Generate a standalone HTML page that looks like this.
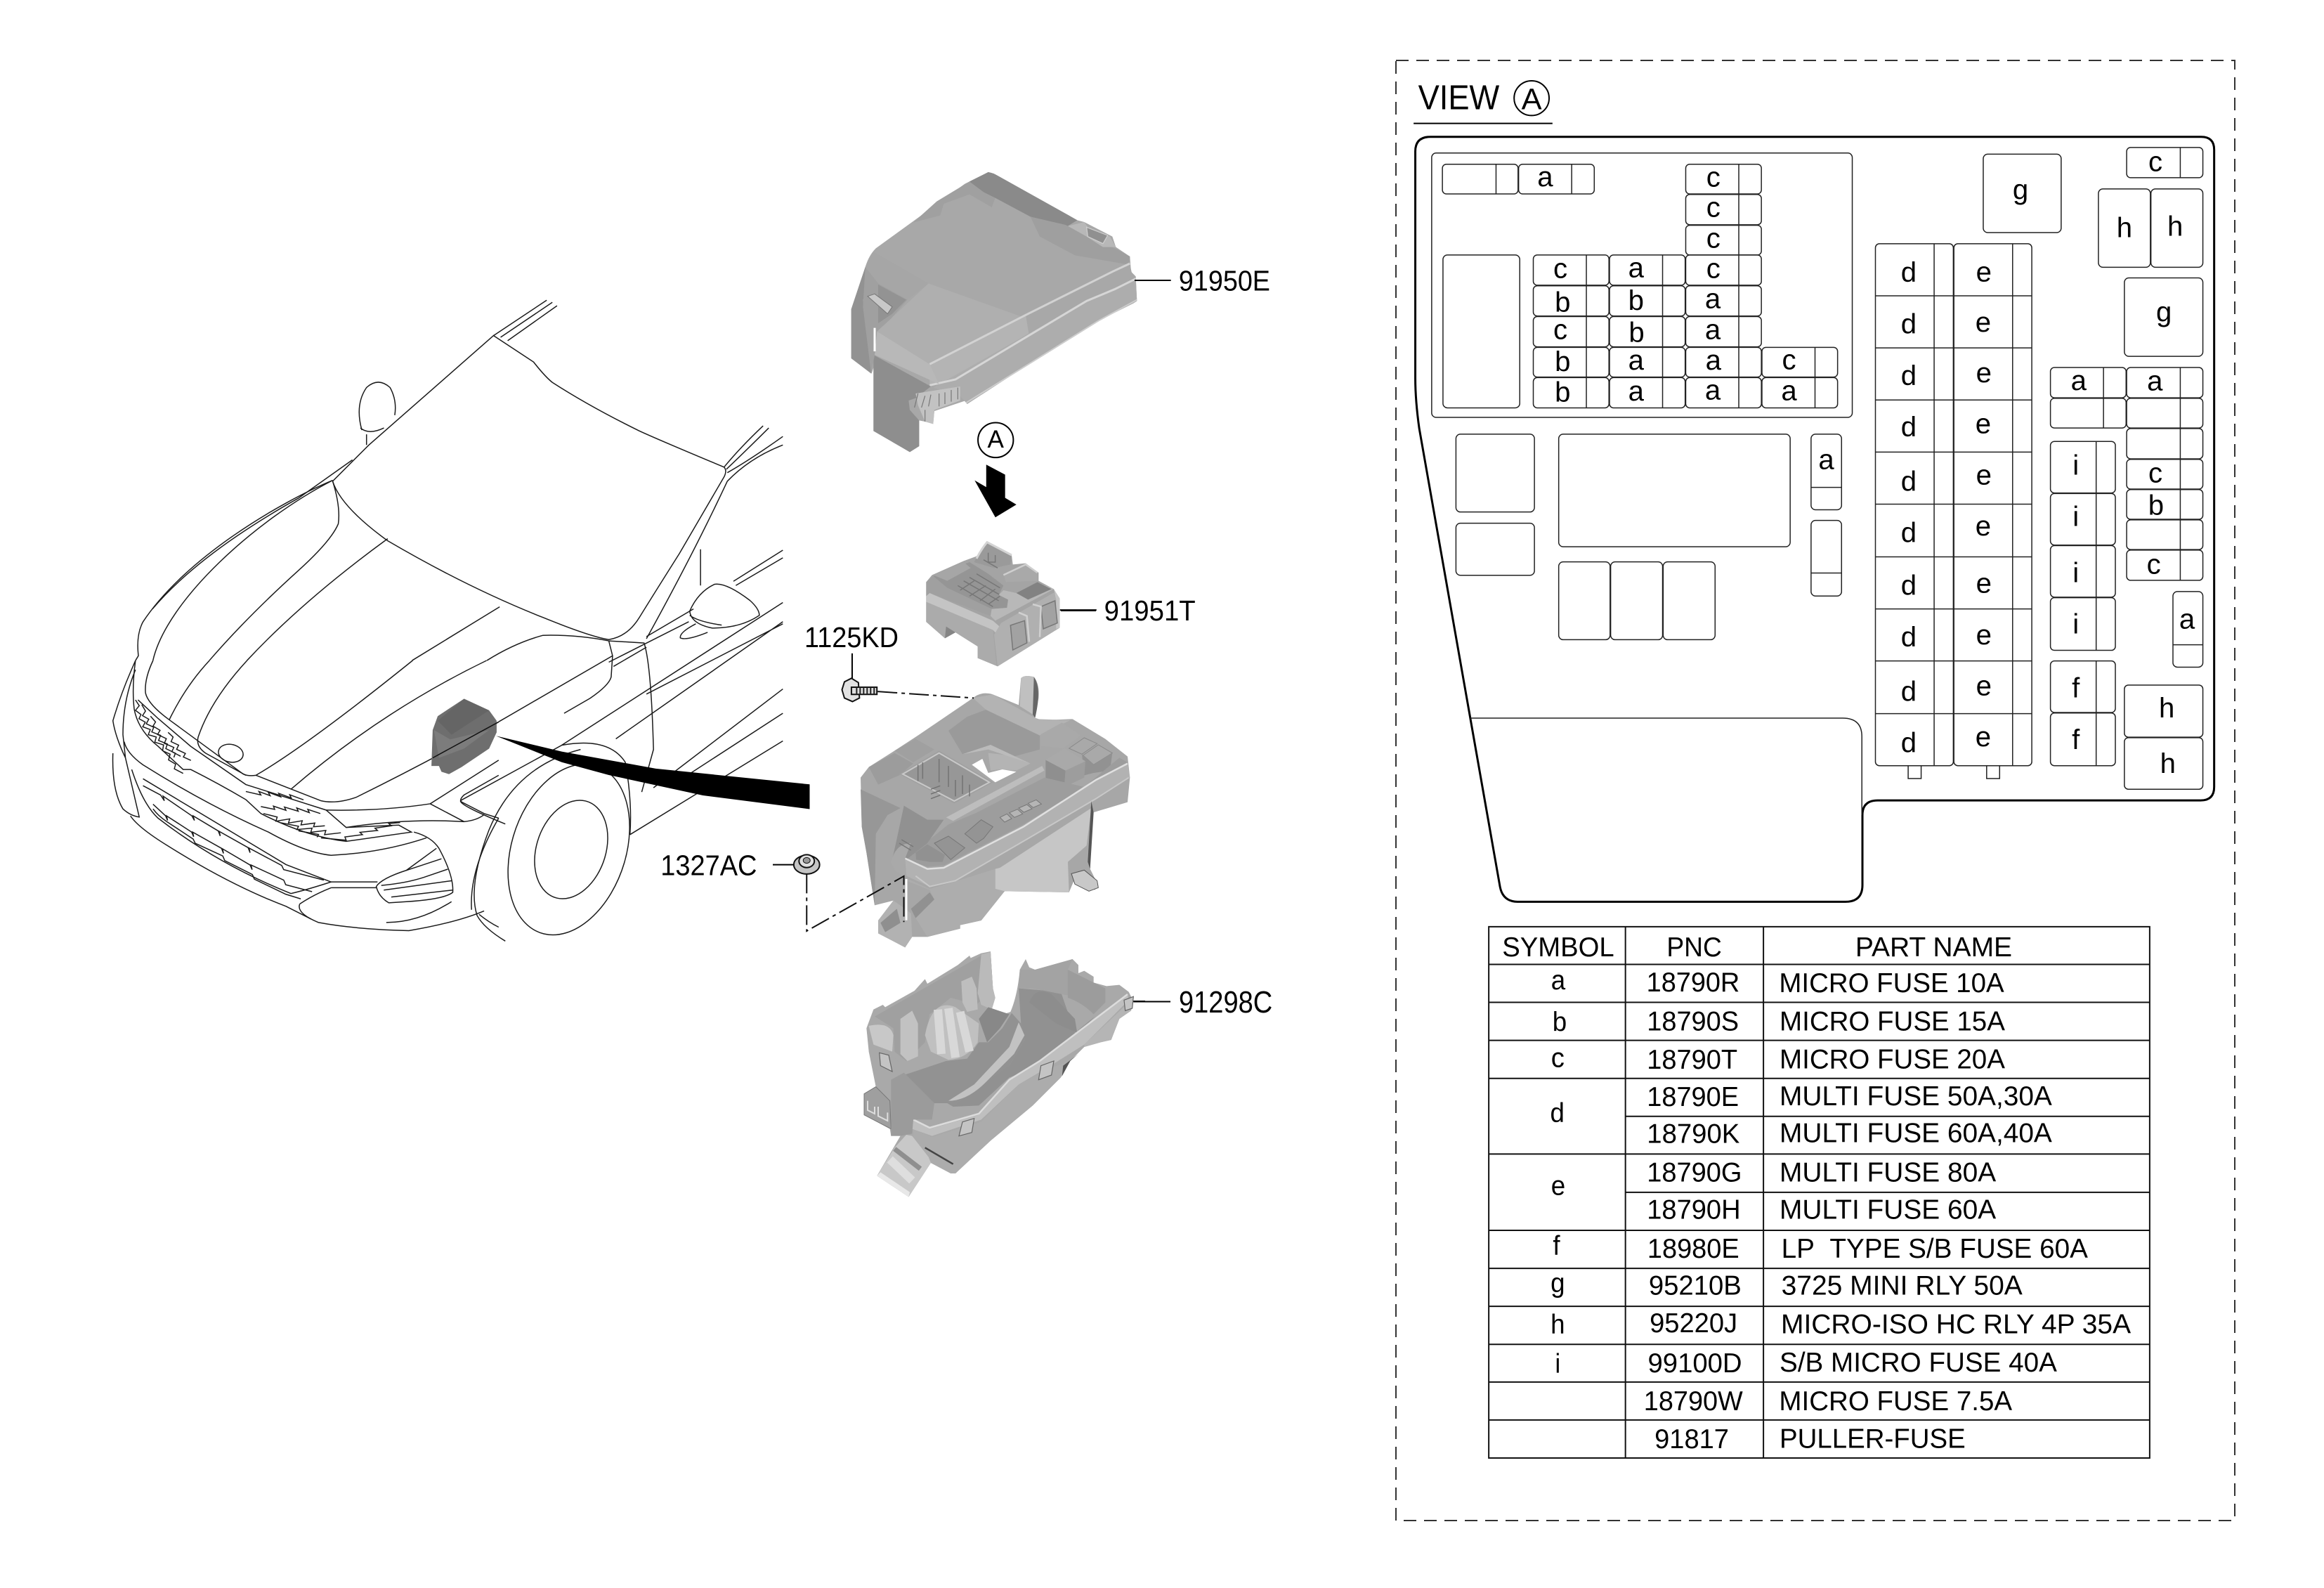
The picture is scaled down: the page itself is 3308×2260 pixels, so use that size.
<!DOCTYPE html>
<html><head><meta charset="utf-8"><style>
html,body{margin:0;padding:0;background:#fff}
svg{display:block}
svg *{vector-effect:non-scaling-stroke}
text{font-family:"Liberation Sans",sans-serif;fill:#000;stroke:none}
.car path,.car ellipse{fill:none;stroke:#1a1a1a;stroke-width:1.5}
.fz rect,.fz path{fill:none;stroke:#222;stroke-width:1.5}
.fz text{font-size:50px;text-anchor:middle}
.tb text{font-size:76px}
.tb .m{text-anchor:middle}
.ln{stroke:#000;stroke-width:2;fill:none}
.lb{font-size:86px}
</style></head><body>
<svg xmlns="http://www.w3.org/2000/svg" width="3308" height="2260" viewBox="0 0 3308 2260">
<rect width="3308" height="2260" fill="#fff"/>

<!-- CAR upper -->
<g class="car" transform="translate(130,400) scale(.6696,.606)">
<path d="M855,128 L940,190 Q965,225 980,238 Q1060,295 1165,352 Q1200,370 1345,437 Q1352,445 1345,460 L1250,640 Q1190,745 1165,790 Q1140,835 1100,842 Q1060,835 960,790 Q800,720 630,610 Q530,530 513,470 L590,385 Z"/>
<path d="M855,128 L968,45M870,132 L980,50M885,140 L990,58"/>
<path d="M575,350 Q560,290 585,250 Q610,225 635,250 Q650,280 645,315M572,345 Q590,362 622,345M585,360 L585,385"/>
<path d="M513,468 C400,520 200,650 110,800 Q95,830 100,880 L94,891"/>
<path d="M555,420 L440,510 Q230,640 130,770"/>
<path d="M513,470 Q530,530 525,570 Q510,610 440,680 Q330,790 251,891"/>
<path d="M513,468 C350,560 160,750 131,891"/>
<path d="M630,605 Q450,750 331,891"/>
<path d="M868,765 L682,891"/>
<path d="M1100,845 Q1030,830 960,832 Q900,850 841,891"/>
<path d="M866,1035 L1108,880 L1100,845M1108,880 L1105,930 Q1100,950 1060,980 L1005,1015"/>
<path d="M1345,437 Q1380,390 1428,340M1350,442 Q1390,400 1440,345M1352,450 Q1400,420 1470,365M1180,840 Q1280,640 1352,470 Q1400,415 1470,385"/>
<path d="M1100,845 L1175,850 Q1190,900 1195,1100 L1170,1200M1295,630 V715"/>
<path d="M1272,775 Q1290,730 1325,712 Q1350,708 1400,750 Q1420,770 1420,785 Q1380,815 1320,815 Q1275,805 1272,775M1272,785 Q1290,800 1340,808M1285,805 Q1250,825 1252,838 Q1265,845 1310,825"/>
<path d="M1180,835 L1280,770M1370,715 L1470,650M1365,705 L1470,632M1100,895 L1270,800M1110,905 L1180,860"/>
<path d="M1000,1090 L1470,755M1180,970 L1470,805M1115,1075 L1470,800M1195,1190 L1470,958M1240,1180 L1470,1015M1145,1300 L1470,1080"/>
<path d="M785,1220 Q780,1230 880,1275M785,1220 L1000,1090 Q1100,1070 1135,1130 Q1150,1220 1145,1300"/>
<path d="M1040,1100 Q900,1140 845,1290 Q800,1420 820,1490 Q835,1520 880,1550"/>
<ellipse cx="1015" cy="1335" rx="122" ry="205" transform="rotate(15 1015 1335)"/>
<ellipse cx="1020" cy="1335" rx="74" ry="118" transform="rotate(15 1020 1335)"/>
</g>

<!-- CAR front -->
<g class="car" transform="translate(150,940) scale(.357,.33)">
<path d="M190,0 Q155,80 160,140 Q170,190 260,260 L550,490 Q570,500 600,495 Q800,370 1225,0"/>
<path d="M415,0 Q320,110 255,255"/>
<path d="M565,0 Q420,170 370,330 Q360,370 400,400 L560,495"/>
<path d="M600,495 L860,605 Q920,620 1000,590 Q1300,430 1568,265"/>
<path d="M740,555 Q1100,220 1520,0"/>
<ellipse cx="500" cy="400" rx="50" ry="38" transform="rotate(15 500 400)"/>
<path d="M120,0 L100,50 Q60,150 30,260 Q40,330 80,420M120,40 Q70,170 70,320 L80,420"/>
<path d="M120,0 Q105,120 115,210 Q130,300 210,370 L310,470 L340,470 Q450,530 560,600 L620,660 Q800,760 960,780 L1220,740 L1170,710 L960,720 L880,645 L560,535 L340,370 L210,250 L130,170"/>
<path d="M120,170 l15,25 -15,20 22,18 -8,18 25,15 -10,20 30,12 -8,22 32,10 -6,22 35,12 -4,25 30,15 -6,25 28,18 -5,20 35,20 M145,190 l15,28 -12,20 25,15 -10,20 30,15 -8,20 35,15 -8,22 35,15 -6,20 38,20 -6,18 M180,240 l20,25 -10,18 28,18 -10,18 35,18 -8,20 38,18 -8,18 35,20 M250,310 l20,20 -8,20 30,15 -8,18 35,18 -8,15 30,15"/>
<path d="M560,565 l60,15 -8,-15 45,18 -8,-15 50,20 -8,-15 50,20 -6,-14 55,22 M620,630 l55,12 -5,-14 50,18 -6,-14 55,18 -6,-14 50,20 -6,-14 50,18 M630,660 l55,15 -5,18 55,-10 -5,18 55,-10 -5,18 55,-8 -5,16 45,-4 M700,700 l70,15 -6,14 60,-6 -5,18 60,-8 -5,18 65,-8 M770,735 l80,15 -6,12 M860,765 l100,10 -5,-14 70,-10 -10,-10 70,-8 -10,-10 65,-10 -10,-10 45,-4"/>
<path d="M75,350 Q85,400 150,450 Q400,620 650,740 Q800,830 900,840 Q1100,830 1280,765"/>
<path d="M880,645 Q1100,650 1295,618 L1568,430M1295,618 L1430,695 Q1480,690 1510,665M960,720 Q1200,680 1430,695"/>
<path d="M1420,610 Q1410,600 1430,580 L1568,495M1420,610 L1510,660 L1568,680"/>
<path d="M1230,740 Q1300,760 1330,810 Q1390,930 1385,1000 Q1350,1030 1200,1040 L1130,1045 Q1090,1020 1080,975 Q1100,940 1200,905 L1320,810"/>
<path d="M1100,970 Q1200,960 1270,935M1110,990 L1380,950M1140,1020 L1385,990M1200,905 L1340,855M1270,935 L1365,900"/>
<path d="M900,955 H1085M900,980 H1080M775,1050 Q830,1010 900,980M775,1050 Q760,1090 850,1130 Q1000,1160 1210,1165 Q1400,1130 1510,1080M1120,1130 Q1250,1130 1380,1040"/>
<path d="M30,400 Q25,560 70,640 Q100,670 135,675 L80,420M100,670 Q130,720 250,800 Q500,970 720,1060 L820,1115"/>
<path d="M105,470 Q150,620 210,680 Q450,880 740,1005 Q800,990 900,955 L720,880 L150,510"/>
<path d="M150,540 L220,580 l15,25 -5,-20 115,85 10,20 -5,-20 100,65 8,22 -4,-20 115,70 8,22 -4,-20 130,75 8,18 160,45"/>
<path d="M190,620 L240,670 l8,20 -4,-20 100,70 8,20 -4,-20 115,70 8,22 -4,-20 110,70 8,20 -4,-20 130,65 8,20 105,30"/>
<path d="M190,640 Q210,670 245,695 L350,770 l8,18 110,55 8,20 110,60 8,20 125,65 l60,20"/>
<path d="M1460,1075 Q1450,900 1568,680M1490,1095 Q1530,1130 1568,1150"/>
</g>

<!-- wedge + module -->
<g transform="translate(130,400) scale(.6696,.606)">
<path d="M860,1068 L1000,1105 L1200,1145 L1527,1182 V1240 L1300,1208 L1100,1160 L1000,1130 Z" fill="#000"/>
</g>
<g transform="translate(150,940) scale(.357,.33)">
<path d="M1430,165 L1530,215 L1560,260 L1560,310 L1530,380 L1420,460 L1370,490 L1340,480 L1330,455 L1300,455 L1305,300 L1325,240 Z" fill="#6e6e6e"/>
<path d="M1430,165 L1530,215 L1380,320 L1325,260 Z" fill="#656565"/>
<path d="M1310,300 L1375,340 L1530,300 L1430,380 L1330,420 Z" fill="#7c7c7c"/>
<path d="M1305,420 L1568,265" stroke="#111" stroke-width="1.5" fill="none"/>
</g>

<!-- COVER (detail coords) -->
<g transform="translate(1200,230) scale(.33333)">
<path d="M620,45 Q640,48 660,60 L1000,250 L1030,258 L1150,320 L1165,365 L1225,405 L1230,470 L1250,490 L1255,595 L1240,605 L1090,680 L800,860 L530,1035 L525,1020 L390,1065 L385,1120 L350,1110 L325,1105 L325,1215 L285,1240 L130,1150 L130,880 L122,905 L35,840 L35,630 L95,450 Q110,400 140,370 L520,95 Z" fill="#a8a8a8"/>
<path d="M540,85 L620,45 Q640,48 660,60 L1000,250 L960,275 L850,260 L800,235 L650,155 L635,195 L540,140 L430,180 L415,230 L300,260 L400,170 Z" fill="#a0a0a0"/>
<path d="M540,85 L620,45 Q640,48 660,60 L1000,250 L960,275 L900,265 L800,235 L650,155 L600,130 Z" fill="#8a8a8a"/>
<path d="M800,235 L950,270 L1170,375 L1225,405 L1220,440 L990,400 L840,320 Z" fill="#9f9f9f"/>
<path d="M145,725 L205,670 L365,520 L770,665 L370,865 Z" fill="#afafaf"/>
<path d="M130,385 L365,520 L275,590 L150,520 L95,450 Z" fill="#a6a6a6"/>
<path d="M370,865 L780,655 L1150,470 L1225,440 L1240,510 L1030,590 L450,940 L370,950 Z" fill="#b4b4b4"/>
<path d="M780,655 L1150,470 L1225,440 L1240,505 L1040,590 L795,745 Z" fill="#a8a8a8"/>
<path d="M385,965 L1030,600 L1250,500 L1255,595 L1240,605 L1090,680 L800,860 L530,1035 L500,1000 Z" fill="#adadad"/>
<path d="M370,865 L780,655 L1150,470 L1225,435" stroke="#d2d2d2" stroke-width="3" fill="none"/>
<path d="M370,955 L480,930 L1040,595 L1160,545 L1250,500" stroke="#d6d6d6" stroke-width="3" fill="none"/>
<path d="M525,1030 L800,860 L1090,680 L1255,590" stroke="#cdcdcd" stroke-width="2" fill="none"/>
<path d="M145,725 L370,865 L410,950 L135,825 Z" fill="#b8b8b8"/>
<path d="M130,825 L375,960 L310,1010 L280,1020 L285,1060 L325,1105 L325,1215 L285,1240 L130,1150 Z" fill="#8e8e8e"/>
<path d="M35,630 L95,450 L130,520 L85,590 L120,905 L35,840 Z" fill="#929292"/>
<path d="M95,450 L150,520 L275,590 L205,670 L145,725 L135,825 L120,905 L85,620 Z" fill="#a0a0a0"/>
<path d="M150,525 L270,590 L210,650 L150,690 Z" fill="#939393"/>
<path d="M105,575 L135,565 L210,620 L190,650 Z" fill="#c8c8c8" stroke="#777" stroke-width="1"/>
<path d="M135,710 V810" stroke="#fff" stroke-width="3"/>
<path d="M310,990 L500,960 L500,1020 L390,1060 L385,1120 L350,1110 L320,1040 Z" fill="#c2c2c2"/>
<path d="M320,990 l-15,60M350,1000 l-15,50M375,995 l-10,50M410,990 v55M435,985 v50M462,975 v50M490,965 v50M350,1060 v50" stroke="#777" stroke-width="1.2"/>
<path d="M960,275 L1030,258 L1045,280 L1140,320 L1165,365 L1110,365 L1040,320 Z" fill="#b8b8b8"/>
<path d="M1040,280 L1130,315 L1110,350 L1045,320 Z" fill="#909090" stroke="#d0d0d0" stroke-width="1.2"/>
<path d="M1245,507 H1400" class="ln"/>
</g>

<!-- labels / arrow -->
<g transform="translate(1180,220) scale(.4337,.478)">
<text x="1148" y="405" class="lb" textLength="300" lengthAdjust="spacingAndGlyphs">91950E</text>
<ellipse cx="547" cy="850" rx="58" ry="52" fill="none" stroke="#000" stroke-width="2"/>
<text x="520" y="872" font-size="74" textLength="54" lengthAdjust="spacingAndGlyphs">A</text>
<path d="M516,923 L578,953 L578,1022 L615,1042 L546,1080 L478,970 L516,990 Z" fill="#000"/>
<text x="903" y="1387" class="lb" textLength="300" lengthAdjust="spacingAndGlyphs">91951T</text>
<path d="M758,1356 H878" class="ln"/>
<path d="M76,1485 V1560" class="ln"/>
</g>
<text x="1145" y="921" font-size="41" textLength="134" lengthAdjust="spacingAndGlyphs">1125KD</text>

<!-- RELAY block -->
<g transform="translate(1300,720) scale(.33333)">
<path d="M315,152 L420,210 L425,250 L480,245 L535,285 L535,320 L600,355 L625,395 L625,520 L360,685 L275,650 L275,600 L180,540 L135,565 L55,495 L55,325 L80,295 L215,235 L270,215 Z" fill="#a4a4a4"/>
<path d="M85,300 L240,240 L320,290 L385,340 L365,380 L405,400 L400,435 L335,440 L145,350 Z" fill="#959595"/>
<path d="M85,295 L215,240 L245,265 L145,320 Z" fill="#a6a6a6"/>
<path d="M270,220 L315,160 L420,210 L415,250 L345,265 L260,240 Z" fill="#9a9a9a"/>
<path d="M270,225 Q290,185 315,155 L420,210" stroke="#d4d4d4" stroke-width="3" fill="none"/>
<path d="M385,290 L480,250 L530,285 L530,320 L395,325 Z" fill="#a9a9a9"/>
<path d="M385,295 L480,250 L530,285" stroke="#cfcfcf" stroke-width="2.5" fill="none"/>
<path d="M190,340 l150,90M215,320 l150,85M240,305 l130,75M270,290 l100,60M200,360 l60,-40M240,385 l70,-45M285,405 l65,-50M320,420 l50,-35M300,230 l60,35M320,200 v40 h30 v-30" stroke="#777" stroke-width="1.5" fill="none"/>
<path d="M55,325 L85,300 L145,350 L335,440 L330,470 L70,372 L55,385 Z" fill="#a0a0a0"/>
<path d="M330,470 L335,440 L400,435 L405,400 L365,380 L385,360 L440,372 L530,325 L600,355 L350,490 Z" fill="#b8b8b8"/>
<path d="M440,372 L530,325 L590,355 L490,400 Z" fill="#828282"/>
<path d="M55,385 L70,372 L340,490 L385,530 L380,570 L340,530 L55,410 Z" fill="#c4c4c4"/>
<path d="M55,410 L340,530 L355,680 L275,650 L275,600 L180,540 L135,565 L55,495 Z" fill="#ababab"/>
<path d="M140,515 L180,540 L135,565 Z" fill="#858585"/>
<path d="M375,500 L600,370 L625,400 L625,520 L360,685 L345,550 Z" fill="#b0b0b0"/>
<path d="M600,355 L625,395 L625,520 L610,525 L610,400 Z" fill="#c6c6c6"/>
<path d="M415,510 L475,490 L485,585 L425,615 Z M545,430 L605,405 L615,500 L555,525 Z" fill="#a2a2a2" stroke="#777" stroke-width="1.5"/>
<path d="M450,455 L485,470 L495,580 M510,420 L545,430 L540,560" stroke="#d0d0d0" stroke-width="2.5" fill="none"/>
<path d="M630,447 H780" class="ln"/>
</g>

<!-- FUSE BOX -->
<g transform="translate(1210,960) scale(.33333)">
<path d="M525,100 Q560,70 610,85 L720,130 L730,15 Q745,0 785,10 Q810,40 805,100 L790,185 L820,195 L950,190 L1090,275 L1185,350 L1195,440 L1185,545 L1035,590 L1025,830 L1060,900 L1045,920 L960,870 L935,930 L660,925 L560,1050 L470,1070 L470,1085 L330,1120 L265,1120 L235,1165 L120,1105 L120,1050 L185,965 L105,985 L70,760 L50,650 L45,440 L80,395 L190,325 L290,260 Z" fill="#a7a7a7"/>
<path d="M730,15 Q745,0 785,10 Q795,80 780,170 L725,135 Z" fill="#c0c0c0"/>
<path d="M785,10 Q820,60 790,185 L780,170 Z" fill="#666"/>
<path d="M580,150 L810,260 L810,320 L700,350 L600,300 L480,340 L420,240 L500,180 Z" fill="#9a9a9a"/>
<path d="M525,100 L580,150 L810,260 L940,195 L800,190 L610,85 Z" fill="#b3b3b3"/>
<path d="M590,335 L680,345 L770,380 L710,410 L640,405 L600,410 Z" fill="#b4b4b4"/>
<path d="M480,340 L590,320 L770,380 L600,300 Z" fill="#bbb"/>
<path d="M520,385 L565,360 L590,420 L650,405 L710,415 L620,460 Z" fill="#fff"/>
<path d="M815,255 L905,205 L985,260 L910,315 L815,305 Z" fill="#a9a9a9"/>
<path d="M935,315 L1000,270 L1055,295 L990,340 Z M995,345 L1060,300 L1120,335 L1040,385 Z" fill="#a9a9a9" stroke="#8a8a8a" stroke-width="1"/>
<path d="M990,340 L1040,385 L1040,420 L1000,430 Z M1040,385 L1120,335 L1110,410 L1040,420 Z" fill="#929292"/>
<path d="M835,365 L915,315 L1005,370 L920,410 Z" fill="#a9a9a9"/>
<path d="M835,365 L920,410 L915,480 L835,445 Z" fill="#8f8f8f"/>
<path d="M920,410 L1005,370 L1000,440 L915,480 Z" fill="#9d9d9d"/>
<path d="M190,325 L280,275 L360,320 L270,375 Z" fill="#a0a0a0"/>
<path d="M80,395 L190,335 L270,380 L210,430 L120,470 Z" fill="#9c9c9c"/>
<path d="M210,425 L380,325 L610,460 L445,550 Z" fill="#a0a0a0"/>
<path d="M225,425 L380,335 L595,460 L445,540 Z" fill="#979797" stroke="#c8c8c8" stroke-width="2"/>
<path d="M290,385 v70M310,375 v70M380,360 v100M420,390 v90M450,450 v70M480,430 v80M510,470 v50M345,490 l40,-15M345,510 l40,-15M345,530 l40,-15" stroke="#737373" stroke-width="1.5" fill="none"/>
<path d="M410,610 L820,390 L830,410 L440,625 Z" fill="#bdbdbd"/>
<path d="M240,790 L345,700 L420,640 L540,590 L830,440 L1000,480 L1150,355 L1185,375 L1050,450 L740,640 L400,815 L330,820 Z" fill="#9d9d9d"/>
<path d="M230,560 L330,620 L400,620 L330,720 L240,790 L180,790 L200,700 Z" fill="#919191"/>
<path d="M280,760 L330,725 L405,770 L395,800 L340,800 L282,790 Z" fill="#919191"/>
<path d="M360,720 L420,690 L490,740 L430,790 Z M490,680 L560,620 L610,650 L570,700 L540,720 Z" fill="#949494" stroke="#777" stroke-width="1"/>
<path d="M640,610 l30,-15 20,20 -30,15Z M680,590 l35,-15 22,20 -35,15Z M720,570 l35,-15 22,18 -35,15Z M760,550 l35,-15 22,18 -35,15Z" fill="#b5b5b5" stroke="#777" stroke-width="1"/>
<path d="M640,825 L1030,570 L1010,730 L930,800 L935,930 L660,925 L620,915 L620,830 Z" fill="#c6c6c6"/>
<path d="M240,870 L340,915 L460,880 L620,830 L620,915 L660,925 L560,1050 L470,1070 L470,1085 L330,1120 L280,1040 L360,960 L340,920 L240,880 Z" fill="#adadad"/>
<path d="M235,785 L330,830 L400,825 L740,650 L1050,450 L1185,380 L1195,440 L1050,530 L760,700 L450,880 L340,905 L240,860 Z" fill="#b2b2b2"/>
<path d="M235,785 L330,830 L400,825 L740,650 L1050,450 L1185,380" stroke="#e0e0e0" stroke-width="2.5" fill="none"/>
<path d="M280,860 L340,905 L450,880 L760,700 L1050,530 L1190,440" stroke="#c8c8c8" stroke-width="2" fill="none"/>
<path d="M1030,540 L1040,590 L1025,830 L1015,800 Z" fill="#555"/>
<path d="M945,850 L1000,835 L1055,880 L1060,910 L1020,925 L960,895 Z" fill="#c8c8c8" stroke="#555" stroke-width="1"/>
<path d="M45,490 L215,570 L160,600 L110,680 L105,985 L70,760 L50,650 Z" fill="#979797"/>
<path d="M175,800 Q195,720 260,720 L235,785 L235,860 Q190,850 175,800 Z" fill="#a9a9a9"/>
<path d="M210,720 l50,30M220,705 l50,30" stroke="#777" stroke-width="1.5"/>
<path d="M120,1050 L185,965 L235,1000 L260,1020 L265,1120 L235,1165 L120,1105 Z" fill="#b2b2b2"/>
<path d="M130,1060 L200,1000 L215,1060 L150,1100 Z" fill="#8f8f8f"/>
<path d="M260,1000 L340,930 L360,960 L280,1040 Z" fill="#919191"/>
</g>

<!-- TRAY -->
<g transform="translate(1210,1340) scale(.33333)">
<path d="M600,42 L610,200 L620,240 L605,290 Q640,320 685,300 Q715,230 725,120 L750,75 L765,110 L790,120 L950,75 L975,100 L975,135 L1000,125 L1040,150 L1040,175 L1095,190 L1150,185 L1190,215 L1210,255 L1200,295 L1150,330 L1115,420 L1070,430 L1000,450 L940,510 L900,580 L780,700 L600,850 L450,990 L430,990 L345,945 L250,1090 L115,1000 L215,830 L175,830 L170,800 L60,740 L60,650 L110,620 L80,470 L70,370 L100,290 L140,270 L150,280 L275,210 L320,160 L330,180 L460,100 L510,60 L515,70 L560,50 Z" fill="#a9a9a9"/>
<path d="M105,320 L560,60 L600,45 L610,200 L540,270 L430,240 L340,310 L320,430 L240,510 L190,470 L185,370 Z" fill="#a0a0a0"/>
<path d="M560,55 L600,45 L610,200 L620,240 L605,290 L560,270 L545,220 Z" fill="#bababa"/>
<path d="M230,570 L410,510 L500,500 L550,430 L590,430 L650,370 L690,305 L730,350 L745,420 L680,530 L550,660 L440,705 L415,690 L350,690 L240,620 Z" fill="#929292"/>
<path d="M745,420 L730,350 L720,200 L900,215 L960,390 L1045,320 L880,490 L790,540 L680,580 L550,700 L440,705 L680,530 Z" fill="#919191"/>
<path d="M720,200 L725,120 L790,120 L950,75 L930,120 L930,230 L780,200 Z" fill="#a3a3a3"/>
<path d="M765,260 Q790,190 860,225 L960,330 L970,390 L880,350 Z" fill="#8d8d8d"/>
<path d="M930,120 L1090,200 L1090,260 L1040,310 Q990,260 930,240 Z" fill="#9c9c9c"/>
<path d="M320,400 Q350,240 450,280 L550,350 L545,430 Q500,500 420,505 L345,470 Z" fill="#c0c0c0"/>
<path d="M375,290 L390,480M420,285 L450,495M470,300 L510,470" stroke="#d8d8d8" stroke-width="12" fill="none"/>
<path d="M550,330 L590,280 L680,310 L640,370 L585,430 Z" fill="#888"/>
<path d="M215,330 L265,295 L290,350 L290,490 L245,510 L215,480 Z" fill="#c2c2c2"/>
<path d="M475,170 L520,150 L540,200 L545,290 L500,300 L480,260 Z" fill="#bebebe"/>
<path d="M420,680 Q500,680 580,600 L700,480 L745,400 L720,345 L680,450 L530,610 Z" fill="#c2c2c2"/>
<path d="M270,800 L350,835 L560,770 L720,610 L840,545 L940,510 L900,580 L780,700 L600,850 L450,990 L430,990 L345,945 L270,860 Z" fill="#acacac"/>
<path d="M270,760 L340,800 L550,740 L680,590 L810,510 L1185,225 L1190,250 L1000,440 L840,540 L720,610 L560,760 L350,830 L265,800 Z" fill="#bfbfbf"/>
<path d="M270,760 L340,795 L550,735 L680,590 L810,510 L1185,225" stroke="#dcdcdc" stroke-width="2.5" fill="none"/>
<path d="M1000,440 L1190,260 L1200,295 L1150,330 L1115,420 L1070,430 L1000,450 Z" fill="#b5b5b5"/>
<path d="M910,530 L975,480 L940,510 L905,575 Z" fill="#555"/>
<path d="M60,650 L110,620 L170,680 L175,800 L60,740 Z" fill="#9f9f9f" stroke="#777" stroke-width="1"/>
<path d="M75,680 v40 l30,15 v-30 M120,705 v40 l40,20 v-35" stroke="#ddd" stroke-width="2" fill="none"/>
<path d="M175,590 L230,560 L360,690 L350,760 L270,760 L265,820 L215,830 L175,830 Z" fill="#9b9b9b"/>
<path d="M100,460 L130,440 L215,520 L225,560 L175,590 L130,560 L100,540 L80,470 Z" fill="#a9a9a9"/>
<path d="M80,360 Q170,340 185,400 L180,470 L100,440 Z" fill="#c8c8c8"/>
<path d="M125,475 L165,485 L180,555 L130,530 Z M480,770 L530,755 L520,815 L465,830 Z M815,530 L870,510 L860,570 L805,590 Z M1170,250 L1210,235 L1205,285 L1175,295 Z" fill="#c4c4c4" stroke="#666" stroke-width="1.2"/>
<path d="M115,1000 L190,880 L240,825 L265,830 L335,920 L345,945 L250,1090 Z" fill="#c8c8c8"/>
<path d="M190,885 L300,970" stroke="#8f8f8f" stroke-width="7"/>
<path d="M170,930 L265,1020" stroke="#dedede" stroke-width="12"/>
<path d="M115,1000 L250,1090 L255,1070 L130,985 Z" fill="#e8e8e8"/>
<path d="M320,880 L440,950" stroke="#444" stroke-width="2.5"/>
<path d="M1210,255 H1260" class="ln"/>
</g>

<!-- screw, nut, dashed lines, labels -->
<g transform="translate(1100,950) scale(.4974,.5102)">
<path d="M300,67 L575,85M97,575 V735 L375,582 V710" fill="none" stroke="#111" stroke-width="2" stroke-dasharray="28 6 5 6"/>
<path d="M382,590 V705" stroke="#fff" stroke-width="3"/>
<path d="M205,40 L225,30 L245,42 L248,85 L228,95 L205,85 L198,62 Z" fill="#e2e2e2" stroke="#111" stroke-width="2"/>
<path d="M225,55 H298 V75 H225 Z" fill="#ddd" stroke="#111" stroke-width="2"/>
<path d="M240,55 v20M250,55 v20M260,55 v20M270,55 v20M280,55 v20M290,55 v20" stroke="#222" stroke-width="2"/>
<ellipse cx="97" cy="550" rx="37" ry="26" fill="#c4c4c4" stroke="#111" stroke-width="2"/>
<ellipse cx="97" cy="540" rx="22" ry="18" fill="#e0e0e0" stroke="#111" stroke-width="2"/>
<ellipse cx="97" cy="538" rx="10" ry="8" fill="#999" stroke="#111" stroke-width="1"/>
<path d="M0,550 H60" class="ln"/>
<text x="1162" y="962" class="lb" textLength="268" lengthAdjust="spacingAndGlyphs">91298C</text>
<path d="M1032,932 H1138" class="ln"/>
</g>

<g transform="translate(130,400) scale(.6696,.606)">
<text x="1210" y="1395" font-size="68" textLength="205" lengthAdjust="spacingAndGlyphs">1327AC</text>
</g>

<!-- VIEW PANEL -->
<rect x="1987" y="86" width="1194" height="2078" fill="none" stroke="#333" stroke-width="2" stroke-dasharray="18 11"/>
<g class="fz" transform="translate(1980,60) scale(.8036,.797)">
<text x="48" y="120" style="font-size:62px;text-anchor:start" textLength="144" lengthAdjust="spacingAndGlyphs">VIEW</text>
<ellipse cx="249" cy="100" rx="31" ry="31" style="fill:none;stroke:#000;stroke-width:2"/>
<text x="249" y="120" style="font-size:54px">A</text>
<path d="M40,145 H286" style="stroke:#000;stroke-width:2"/>
<path d="M70,169 H1435 Q1458,169 1458,192 V1330 Q1458,1354 1434,1354 H862 Q835,1354 835,1380 V1505 Q835,1535 805,1535 H225 Q198,1535 193,1508 L50,690 Q43,640 43,600 V195 Q43,169 70,169 Z" style="stroke:#000;stroke-width:3"/>
<rect x="72" y="198" width="745" height="472" rx="8"/>
<rect x="91" y="218" width="134" height="53" rx="7"/><rect x="226" y="218" width="134" height="53" rx="7"/>
<rect x="522" y="218" width="134" height="53" rx="7"/><rect x="522" y="272" width="134" height="54" rx="7"/><rect x="522" y="327" width="134" height="53" rx="7"/>
<rect x="252" y="380" width="134" height="54" rx="7"/><rect x="252" y="435" width="134" height="54" rx="7"/><rect x="252" y="490" width="134" height="54" rx="7"/><rect x="252" y="545" width="134" height="53" rx="7"/><rect x="252" y="599" width="134" height="54" rx="7"/>
<rect x="387" y="380" width="134" height="54" rx="7"/><rect x="387" y="435" width="134" height="54" rx="7"/><rect x="387" y="490" width="134" height="54" rx="7"/><rect x="387" y="545" width="134" height="53" rx="7"/><rect x="387" y="599" width="134" height="54" rx="7"/>
<rect x="522" y="380" width="134" height="54" rx="7"/><rect x="522" y="435" width="134" height="54" rx="7"/><rect x="522" y="490" width="134" height="54" rx="7"/><rect x="522" y="545" width="134" height="53" rx="7"/><rect x="522" y="599" width="134" height="54" rx="7"/>
<rect x="657" y="545" width="134" height="53" rx="7"/><rect x="657" y="599" width="134" height="54" rx="7"/>
<path d="M186,218V271M320,218V271M616,218V653M346,380V653M481,380V653M751,545V653"/>
<rect x="92" y="380" width="136" height="273" rx="8"/>
<rect x="115" y="700" width="139" height="139" rx="8"/><rect x="115" y="859" width="139" height="93" rx="8"/>
<rect x="297" y="700" width="410" height="201" rx="8"/>
<rect x="744" y="700" width="54" height="135" rx="8"/><rect x="744" y="854" width="54" height="135" rx="8"/>
<path d="M744,795H798M744,948H798"/>
<rect x="297" y="928" width="91" height="139" rx="8"/><rect x="389" y="928" width="92" height="139" rx="8"/><rect x="482" y="928" width="92" height="139" rx="8"/>
<path d="M140,1207 H800 Q834,1207 834,1240 V1380"/>
<rect x="1049" y="200" width="138" height="140" rx="8"/>
<rect x="1303" y="188" width="135" height="54" rx="7"/><path d="M1398,188V242"/>
<rect x="1253" y="262" width="92" height="140" rx="8"/><rect x="1346" y="262" width="92" height="140" rx="8"/>
<rect x="1299" y="421" width="139" height="140" rx="8"/>
<rect x="858" y="360" width="138" height="932" rx="7"/><rect x="997" y="360" width="138" height="932" rx="7"/>
<path d="M962,360V1292M1101,360V1292M858,453H1135M858,546H1135M858,639H1135M858,732H1135M858,825H1135M858,919H1135M858,1012H1135M858,1105H1135M858,1199H1135"/>
<path d="M916,1292V1315H939V1292M1055,1292V1315H1078V1292"/>
<rect x="1168" y="581" width="134" height="54" rx="7"/><rect x="1168" y="636" width="134" height="53" rx="7"/><path d="M1262,581V689"/>
<rect x="1303" y="581" width="135" height="54" rx="7"/><rect x="1303" y="636" width="135" height="53" rx="7"/><rect x="1303" y="690" width="135" height="54" rx="7"/><rect x="1303" y="745" width="135" height="53" rx="7"/><rect x="1303" y="799" width="135" height="53" rx="7"/><rect x="1303" y="853" width="135" height="53" rx="7"/><rect x="1303" y="907" width="135" height="54" rx="7"/>
<path d="M1398,581V961"/>
<rect x="1168" y="713" width="115" height="92" rx="7"/><rect x="1168" y="806" width="115" height="92" rx="7"/><rect x="1168" y="899" width="115" height="92" rx="7"/><rect x="1168" y="992" width="115" height="94" rx="7"/>
<rect x="1168" y="1105" width="115" height="92" rx="7"/><rect x="1168" y="1198" width="115" height="94" rx="7"/>
<path d="M1249,713V1086M1249,1105V1292"/>
<rect x="1385" y="981" width="53" height="135" rx="8"/><path d="M1385,1076H1438"/>
<rect x="1299" y="1148" width="139" height="93" rx="7"/><rect x="1299" y="1242" width="139" height="92" rx="7"/>

<text x="273" y="257">a</text><text x="571" y="258">c</text><text x="571" y="312">c</text><text x="571" y="367">c</text><text x="571" y="421">c</text><text x="570" y="475">a</text><text x="570" y="530">a</text><text x="571" y="585">a</text><text x="570" y="638">a</text>
<text x="300" y="421">c</text><text x="304" y="481">b</text><text x="300" y="530">c</text><text x="304" y="587">b</text><text x="304" y="642">b</text>
<text x="434" y="420">a</text><text x="434" y="478">b</text><text x="435" y="535">b</text><text x="434" y="585">a</text><text x="434" y="640">a</text>
<text x="705" y="584">c</text><text x="705" y="639">a</text><text x="771" y="762">a</text>
<text x="1115" y="280">g</text><text x="1299" y="348">h</text><text x="1389" y="346">h</text><text x="1369" y="498">g</text><text x="1354" y="230">c</text>
<text x="917" y="428">d</text><text x="917" y="520">d</text><text x="917" y="612">d</text><text x="917" y="704">d</text><text x="917" y="801">d</text><text x="917" y="893">d</text><text x="917" y="987">d</text><text x="917" y="1079">d</text><text x="917" y="1176">d</text><text x="917" y="1268">d</text>
<text x="1050" y="427">e</text><text x="1049" y="517">e</text><text x="1050" y="607">e</text><text x="1049" y="698">e</text><text x="1050" y="790">e</text><text x="1049" y="881">e</text><text x="1050" y="983">e</text><text x="1050" y="1075">e</text><text x="1050" y="1166">e</text><text x="1049" y="1257">e</text>
<text x="1218" y="621">a</text><text x="1353" y="622">a</text><text x="1354" y="786">c</text><text x="1355" y="844">b</text><text x="1351" y="949">c</text>
<text x="1213" y="772">i</text><text x="1213" y="864">i</text><text x="1213" y="964">i</text><text x="1213" y="1056">i</text><text x="1213" y="1170">f</text><text x="1213" y="1262">f</text>
<text x="1410" y="1047">a</text><text x="1374" y="1206">h</text><text x="1376" y="1305">h</text>
</g>

<!-- TABLE -->
<g class="tb" transform="translate(2100,1300) scale(.6378,.5102)">
<path d="M30,37H1505V1519H30ZM335,37V1519M643,37V1519M30,142H1505M30,248H1505M30,354H1505M30,460H1505M335,566H1505M30,671H1505M335,778H1505M30,884H1505M30,990H1505M30,1096H1505M30,1202H1505M30,1307H1505M30,1413H1505" fill="none" stroke="#111" stroke-width="2"/>
<text x="60" y="120" textLength="250" lengthAdjust="spacingAndGlyphs">SYMBOL</text><text x="427" y="120" textLength="123" lengthAdjust="spacingAndGlyphs">PNC</text><text x="848" y="120" textLength="350" lengthAdjust="spacingAndGlyphs">PART NAME</text>
<text class="m" x="185" y="212" textLength="32" lengthAdjust="spacingAndGlyphs">a</text><text class="m" x="188" y="328" textLength="32" lengthAdjust="spacingAndGlyphs">b</text><text class="m" x="184" y="428" textLength="30" lengthAdjust="spacingAndGlyphs">c</text><text class="m" x="183" y="582" textLength="32" lengthAdjust="spacingAndGlyphs">d</text><text class="m" x="185" y="785" textLength="32" lengthAdjust="spacingAndGlyphs">e</text><text class="m" x="181" y="953" textLength="16" lengthAdjust="spacingAndGlyphs">f</text><text class="m" x="184" y="1056" textLength="32" lengthAdjust="spacingAndGlyphs">g</text><text class="m" x="184" y="1172" textLength="32" lengthAdjust="spacingAndGlyphs">h</text><text class="m" x="184" y="1282" textLength="12" lengthAdjust="spacingAndGlyphs">i</text>
<text x="382" y="218" textLength="208" lengthAdjust="spacingAndGlyphs">18790R</text><text x="678" y="220" textLength="502" lengthAdjust="spacingAndGlyphs">MICRO FUSE 10A</text>
<text x="383" y="326" textLength="205" lengthAdjust="spacingAndGlyphs">18790S</text><text x="679" y="326" textLength="503" lengthAdjust="spacingAndGlyphs">MICRO FUSE 15A</text>
<text x="383" y="433" textLength="202" lengthAdjust="spacingAndGlyphs">18790T</text><text x="679" y="432" textLength="503" lengthAdjust="spacingAndGlyphs">MICRO FUSE 20A</text>
<text x="383" y="537" textLength="205" lengthAdjust="spacingAndGlyphs">18790E</text><text x="679" y="535" textLength="608" lengthAdjust="spacingAndGlyphs">MULTI FUSE 50A,30A</text>
<text x="383" y="640" textLength="207" lengthAdjust="spacingAndGlyphs">18790K</text><text x="679" y="638" textLength="608" lengthAdjust="spacingAndGlyphs">MULTI FUSE 60A,40A</text>
<text x="383" y="748" textLength="212" lengthAdjust="spacingAndGlyphs">18790G</text><text x="679" y="748" textLength="483" lengthAdjust="spacingAndGlyphs">MULTI FUSE 80A</text>
<text x="383" y="852" textLength="209" lengthAdjust="spacingAndGlyphs">18790H</text><text x="679" y="852" textLength="483" lengthAdjust="spacingAndGlyphs">MULTI FUSE 60A</text>
<text x="384" y="960" textLength="205" lengthAdjust="spacingAndGlyphs">18980E</text><text x="683" y="960" textLength="684" lengthAdjust="spacingAndGlyphs">LP&#160;&#160;TYPE S/B FUSE 60A</text>
<text x="387" y="1063" textLength="207" lengthAdjust="spacingAndGlyphs">95210B</text><text x="683" y="1063" textLength="538" lengthAdjust="spacingAndGlyphs">3725 MINI RLY 50A</text>
<text x="389" y="1168" textLength="196" lengthAdjust="spacingAndGlyphs">95220J</text><text x="682" y="1171" textLength="781" lengthAdjust="spacingAndGlyphs">MICRO-ISO HC RLY 4P 35A</text>
<text x="385" y="1280" textLength="210" lengthAdjust="spacingAndGlyphs">99100D</text><text x="679" y="1278" textLength="619" lengthAdjust="spacingAndGlyphs">S/B MICRO FUSE 40A</text>
<text x="376" y="1386" textLength="221" lengthAdjust="spacingAndGlyphs">18790W</text><text x="678" y="1386" textLength="520" lengthAdjust="spacingAndGlyphs">MICRO FUSE 7.5A</text>
<text x="400" y="1492" textLength="166" lengthAdjust="spacingAndGlyphs">91817</text><text x="679" y="1491" textLength="415" lengthAdjust="spacingAndGlyphs">PULLER-FUSE</text>
</g>
</svg>
</body></html>
